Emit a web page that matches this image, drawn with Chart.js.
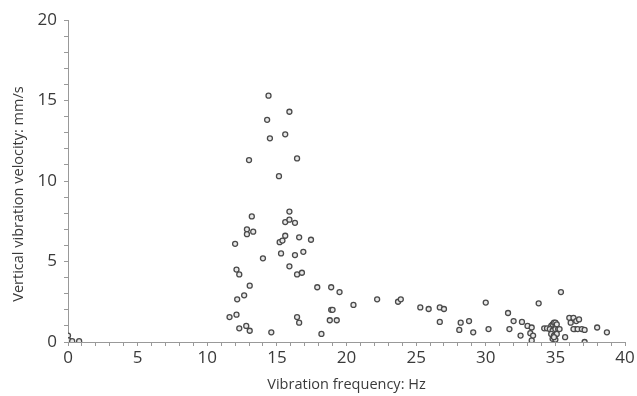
<!DOCTYPE html>
<html>
<head>
<meta charset="utf-8">
<script src="https://cdn.jsdelivr.net/npm/chart.js@4/dist/chart.umd.min.js"></script>
<style>
html,body{margin:0;padding:0;background:#fff;}
#wrap{width:637px;height:396px;}
</style>
</head>
<body>
<div id="wrap"><canvas id="c" width="637" height="396"></canvas></div>
<script>
const xTitle = "Vibration frequency: Hz";
const yTitle = "Vertical vibration velocity: mm/s";
const xTickLabels = [0, 5, 10, 15, 20, 25, 30, 35, 40];
const yTickLabels = [0, 5, 10, 15, 20];

const frequency = [
  0, 0.05, 0.3, 0.8,
  11.6, 12.0, 12.1, 12.3, 12.15, 12.1, 12.3, 12.65, 12.85, 12.85, 13.0, 13.2, 13.05, 13.3, 12.8, 13.05,
  14.0, 14.3, 14.4, 14.5, 14.6, 15.15, 15.2, 15.4, 15.3, 15.6, 15.6, 15.6, 15.9, 15.9, 15.9, 16.3,
  15.9, 16.3, 16.45, 16.45, 16.6, 16.45, 16.6, 16.8, 16.9, 17.45, 17.9, 18.2, 18.9, 18.9, 19.0,
  18.8, 19.3, 19.5, 20.5, 22.2, 23.7, 23.9, 25.3, 25.9, 26.7, 26.7, 27.0, 28.1, 28.2, 28.8, 29.1,
  30.0, 30.2, 31.6, 31.7, 32.0, 32.6, 32.5, 33.0, 33.2, 33.3, 33.3, 33.4, 33.8, 34.2, 34.4,
  34.7, 34.8, 34.9, 35.0, 35.1, 34.6, 34.8, 35.0, 35.2, 34.7, 34.9, 35.1, 34.8, 35.0, 34.9, 35.3,
  35.4, 35.7, 36.0, 36.1, 36.3, 36.4, 36.5, 36.7, 36.3, 36.6, 36.9, 37.1, 37.1, 38.0, 38.7
];
const velocity = [
  0.4, 0.1, 0.05, 0.05,
  1.55, 6.1, 4.5, 4.2, 2.65, 1.7, 0.85, 2.9, 7.0, 6.7, 11.3, 7.8, 3.5, 6.85, 1.0, 0.7,
  5.2, 13.8, 15.3, 12.65, 0.6, 10.3, 6.2, 6.3, 5.5, 6.6, 12.9, 7.45, 7.6, 8.1, 14.3, 7.4,
  4.7, 5.4, 11.4, 4.2, 6.5, 1.55, 1.2, 4.3, 5.6, 6.35, 3.4, 0.5, 3.4, 2.0, 2.0,
  1.35, 1.35, 3.1, 2.3, 2.65, 2.5, 2.65, 2.15, 2.05, 2.15, 1.25, 2.05, 0.75, 1.2, 1.3, 0.6,
  2.45, 0.8, 1.8, 0.8, 1.3, 1.25, 0.4, 1.0, 0.55, 0.9, 0.1, 0.4, 2.4, 0.85, 0.85,
  1.0, 1.1, 1.2, 1.2, 1.1, 0.8, 0.7, 0.8, 0.8, 0.5, 0.4, 0.5, 0.2, 0.15, 0.3, 0.8,
  3.1, 0.3, 1.5, 1.2, 1.5, 0.8, 1.3, 1.4, 0.8, 0.8, 0.8, 0.75, 0.0, 0.9, 0.6
];

const points = frequency.map((f, i) => ({x: f, y: velocity[i]}));
const textColor = '#3a3a3a';
const axisColor = '#999999';
const fontFamily = "'Open Sans', sans-serif";
const tickFont = {family: fontFamily, size: 17};
const titleFont = {family: fontFamily, size: 14.5};

const yTitlePlugin = {
  id: 'yTitlePlugin',
  afterDraw(chart) {
    const ctx = chart.ctx;
    ctx.save();
    ctx.fillStyle = textColor;
    ctx.font = titleFont.size + 'px ' + fontFamily;
    ctx.textAlign = 'center';
    ctx.textBaseline = 'middle';
    ctx.translate(18.5, 194);
    ctx.rotate(-Math.PI / 2);
    ctx.fillText(yTitle, 0, 0);
    ctx.restore();
  }
};

new Chart(document.getElementById('c'), {
  type: 'scatter',
  data: {
    datasets: [{
      data: points,
      pointRadius: 2.5,
      pointHoverRadius: 2.5,
      pointBackgroundColor: '#e8e8e8',
      pointBorderColor: '#4a4a4a',
      pointBorderWidth: 1.3
    }]
  },
  options: {
    responsive: false,
    animation: false,
    events: [],
    layout: {padding: {left: 0, top: 20, right: 12, bottom: 0}},
    plugins: {legend: {display: false}, tooltip: {enabled: false}},
    scales: {
      x: {
        type: 'linear',
        min: 0, max: 40,
        afterFit: s => { s.height = 54; },
        ticks: {
          stepSize: 1, autoSkip: false, maxRotation: 0,
          color: textColor, font: tickFont, padding: 2,
          callback: v => xTickLabels.includes(v) ? String(v) : ''
        },
        grid: {display: true, drawOnChartArea: false, drawTicks: true, tickLength: 4, color: axisColor, tickColor: axisColor},
        border: {display: true, color: axisColor, width: 1},
        title: {display: true, text: xTitle, color: textColor, font: titleFont, padding: {top: 0, bottom: 2}}
      },
      y: {
        type: 'linear',
        min: 0, max: 20,
        afterFit: s => { s.width = 68; },
        ticks: {
          stepSize: 1, autoSkip: false,
          color: textColor, font: tickFont, padding: 7,
          callback: v => yTickLabels.includes(v) ? String(v) : ''
        },
        grid: {display: true, drawOnChartArea: false, drawTicks: true, tickLength: 4, color: axisColor, tickColor: axisColor},
        border: {display: true, color: axisColor, width: 1},
        title: {display: false}
      }
    }
  },
  plugins: [yTitlePlugin]
});
</script>
</body>
</html>
